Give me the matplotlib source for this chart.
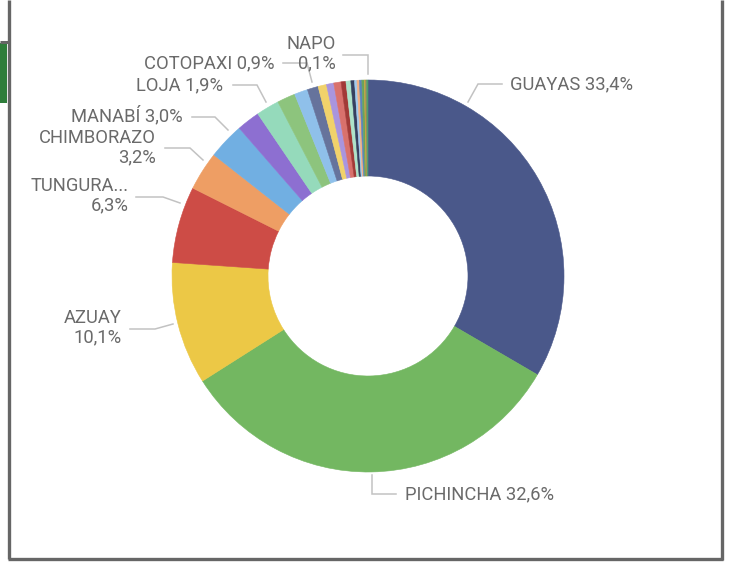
import matplotlib

matplotlib.use("Agg")
import matplotlib.pyplot as plt
from matplotlib.patches import Rectangle

plt.rcParams["font.family"] = ["Roboto", "DejaVu Sans"]

# provinces, sorted by share (percent)
provinces = [
    "GUAYAS", "PICHINCHA", "AZUAY", "TUNGURAHUA", "CHIMBORAZO", "MANABÍ", "LOJA",
    "EL ORO", "IMBABURA", "SANTO DOMINGO", "COTOPAXI", "LOS RÍOS", "ESMERALDAS",
    "CAÑAR", "SANTA ELENA", "CARCHI", "BOLÍVAR", "MORONA SANTIAGO", "ZAMORA CHINCHIPE",
    "PASTAZA", "SUCUMBÍOS", "ORELLANA", "GALÁPAGOS", "NAPO",
]
shares = [
    33.4, 32.6, 10.1, 6.3, 3.2, 3.0, 1.9,
    1.9, 1.5, 1.1, 0.9, 0.7, 0.6,
    0.6, 0.4, 0.4, 0.3, 0.2, 0.2,
    0.2, 0.2, 0.1, 0.1, 0.1,
]
colors = [
    "#4a588a", "#73b761", "#ecc846", "#cd4c46", "#ee9e64", "#71afe2", "#8d6fd1",
    "#95dabb", "#8dc47d", "#8fc0ea", "#66739c", "#f1d26b", "#a995de",
    "#d9716c", "#a23a37", "#aee3c9", "#36405f", "#a2cbee", "#f3b085",
    "#5b86ba", "#6aa35a", "#c9a63a", "#9a8a5a", "#4f9e6e",
]

# which slices get a label, and their label text
label_text = {
    "GUAYAS": "GUAYAS 33,4%",
    "PICHINCHA": "PICHINCHA 32,6%",
    "AZUAY": "AZUAY\n10,1%",
    "TUNGURAHUA": "TUNGURA...\n6,3%",
    "CHIMBORAZO": "CHIMBORAZO\n3,2%",
    "MANABÍ": "MANABÍ 3,0%",
    "LOJA": "LOJA 1,9%",
    "COTOPAXI": "COTOPAXI 0,9%",
    "NAPO": "NAPO\n0,1%",
}
# label layout in pixel coords: text anchor, alignment, leader polyline
label_layout = {
    "GUAYAS": ((510, 84), "left", [(468, 102), (478, 84), (502, 84)]),
    "PICHINCHA": ((405, 494), "left", [(372, 475), (372, 494), (396, 494)]),
    "AZUAY": ((122, 328), "right", [(173, 324), (155, 329), (130, 329)]),
    "TUNGURAHUA": ((129, 196), "right", [(180, 203), (163, 197), (136, 197)]),
    "CHIMBORAZO": ((156, 148), "right", [(203, 160), (190, 148), (165, 148)]),
    "MANABÍ": ((183, 116), "right", [(228, 130), (215, 117), (192, 117)]),
    "LOJA": ((223, 85), "right", [(266, 102), (257, 85), (233, 85)]),
    "COTOPAXI": ((274, 63), "right", [(312, 82), (307, 63), (283, 63)]),
    "NAPO": ((336, 54), "right", [(368, 74), (368, 55), (343, 55)]),
}

W, H = 732, 562
fig = plt.figure(figsize=(W / 100, H / 100), dpi=100)
ax = fig.add_axes([0, 0, 1, 1])
ax.set_xlim(0, W)
ax.set_ylim(H, 0)
ax.set_aspect("equal")
ax.axis("off")

# report frame around the visual
frame = "#666666"
ax.add_patch(Rectangle((0, 43), 7, 60, color="#2e7d3a", lw=0))
ax.plot([0, 8], [41.5, 41.5], color=frame, lw=2.2, solid_capstyle="butt")
ax.plot([8.8, 8.8], [0, 559], color=frame, lw=2.4, solid_capstyle="butt")
ax.plot([721.8, 721.8], [0, 560], color=frame, lw=2.4, solid_capstyle="butt")
ax.plot([7.6, 723], [559.2, 559.2], color=frame, lw=2.4, solid_capstyle="butt")

# y axis is flipped, so counterclock in data space runs clockwise on screen
wedges, _ = ax.pie(
    shares,
    colors=colors,
    startangle=-90,
    counterclock=True,
    center=(368, 276),
    radius=196,
    wedgeprops=dict(width=96, linewidth=0.4),
    frame=True,
)
for w, c in zip(wedges, colors):
    w.set_edgecolor(c)
ax.set_xlim(0, W)
ax.set_ylim(H, 0)
ax.axis("off")

for name in provinces:
    if name not in label_text:
        continue
    (tx, ty), ha, pts = label_layout[name]
    xs, ys = zip(*pts)
    ax.plot(xs, ys, color="#c2c2c2", lw=1.1, solid_joinstyle="miter")
    ax.text(tx, ty, label_text[name], ha=ha, va="center", fontsize=13.2,
            color="#6a6a6a", linespacing=1.1, multialignment=ha)

fig.savefig("out.png", dpi=100)
